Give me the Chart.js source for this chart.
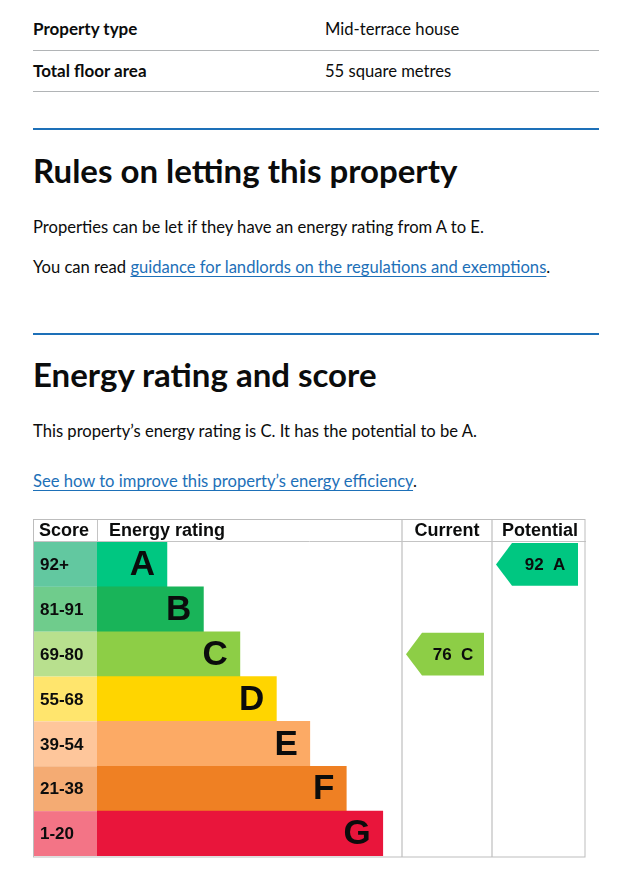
<!DOCTYPE html>
<html>
<head>
<meta charset="utf-8">
<script src="https://cdn.jsdelivr.net/npm/chart.js@4.4.1/dist/chart.umd.min.js"></script>
<style>
  body { margin: 0; background: #fff; color: #0b0c0c; font-family: Lato, "Noto Sans", sans-serif; }
  .page { position: relative; width: 617px; height: 874px; overflow: hidden; }
  .t { position: absolute; white-space: nowrap; line-height: 1; font-size: 16.6px; }
  .b { font-weight: 700; font-size: 17px; }
  .rule { position: absolute; left: 33px; width: 566px; height: 1px; background: #b1b4b6; }
  .blue { position: absolute; left: 33px; width: 566px; height: 2px; background: #1d70b8; }
  a { color: #1d70b8; text-decoration: underline; text-underline-offset: 3px; text-decoration-thickness: 1px; }
  h2 { margin: 0; position: absolute; left: 33px; font-size: 33px; font-weight: 700; line-height: 1; white-space: nowrap; }
  #epc-wrap { position: absolute; left: 33px; top: 519px; width: 553px; height: 340px; }
</style>
</head>
<body>
<div class="page">
  <div class="t b" style="left:33px; top:20px;">Property type</div>
  <div class="t" style="left:325px; top:21px;">Mid-terrace house</div>
  <div class="rule" style="top:50px;"></div>
  <div class="t b" style="left:33px; top:62px;">Total floor area</div>
  <div class="t" style="left:325px; top:63px;">55 square metres</div>
  <div class="rule" style="top:91px;"></div>

  <div class="blue" style="top:128px;"></div>
  <h2 style="top:154px;">Rules on letting this property</h2>
  <div class="t" style="left:33px; top:219px;">Properties can be let if they have an energy rating from A to E.</div>
  <div class="t" style="left:33px; top:259px;">You can read <a href="#">guidance for landlords on the regulations and exemptions</a>.</div>

  <div class="blue" style="top:333px;"></div>
  <h2 style="top:358px;">Energy rating and score</h2>
  <div class="t" style="left:33px; top:423px;">This property’s energy rating is C. It has the potential to be A.</div>
  <div class="t" style="left:33px; top:473px;"><a href="#">See how to improve this property’s energy efficiency</a>.</div>

  <div id="epc-wrap"><canvas id="epcChart"></canvas></div>
</div>

<script>
const bands = ['A', 'B', 'C', 'D', 'E', 'F', 'G'];
const scoreRanges = ['92+', '81-91', '69-80', '55-68', '39-54', '21-38', '1-20'];
const bandMinScores = [92, 81, 69, 55, 39, 21, 1];
const barLengths = [23, 35, 47, 59, 70, 82, 94];
const bandColours = ['#00c781', '#19b459', '#8dce46', '#ffd500', '#fcaa65', '#ef8023', '#e9153b'];
const scoreColours = ['#62c8a0', '#6fcc8c', '#b8e08e', '#ffe56d', '#fec69b', '#f4ab73', '#f37486'];
const headers = ['Score', 'Energy rating', 'Current', 'Potential'];
const currentScore = 76;
const potentialScore = 92;

const bandFor = score => bandMinScores.findIndex(min => score >= min);

const ctx = document.getElementById('epcChart');

// table grid, score column, header, letters and arrows round the bars
const epcTable = {
  id: 'epcTable',
  beforeDatasetsDraw(chart) {
    const c = chart.ctx;
    const area = chart.chartArea;
    const y = chart.scales.y;
    const rowH = (area.bottom - area.top) / bands.length;
    c.save();
    scoreRanges.forEach((label, i) => {
      const cy = y.getPixelForValue(i);
      c.fillStyle = scoreColours[i];
      c.fillRect(0, cy - rowH / 2, area.left, rowH);
      c.fillStyle = '#0b0c0c';
      c.font = 'bold 17px "Liberation Sans", Arial, sans-serif';
      c.textBaseline = 'middle';
      c.textAlign = 'left';
      c.fillText(label, 7, cy + 1);
    });
    c.restore();
  },
  afterDatasetsDraw(chart) {
    const c = chart.ctx;
    const area = chart.chartArea;
    const y = chart.scales.y;
    const x = chart.scales.x;
    const rowH = (area.bottom - area.top) / bands.length;
    const W = chart.width;
    const curL = area.right, curR = area.right + 90, potL = curR, potR = W - 1;
    c.save();

    // band letters at the end of each bar
    c.fillStyle = '#0b0c0c';
    c.font = 'bold 35px "Liberation Sans", Arial, sans-serif';
    c.textAlign = 'right';
    c.textBaseline = 'middle';
    bands.forEach((b, i) => {
      c.fillText(b, x.getPixelForValue(barLengths[i]) - 12, y.getPixelForValue(i) + 1);
    });

    // column dividers
    c.fillStyle = '#d8d8d8';
    c.fillRect(curL, 0, 2, area.bottom + 1);
    c.fillRect(potL, 0, 2, area.bottom + 1);

    // header row
    c.strokeStyle = '#c4c4c4';
    c.lineWidth = 1;
    c.beginPath();
    c.moveTo(0, area.top - 0.5); c.lineTo(W, area.top - 0.5);
    c.moveTo(area.left + 0.5, 0); c.lineTo(area.left + 0.5, area.top);
    c.stroke();
    c.fillStyle = '#0b0c0c';
    c.font = 'bold 18px "Liberation Sans", Arial, sans-serif';
    c.textBaseline = 'middle';
    c.textAlign = 'left';
    c.fillText(headers[0], 6, area.top / 2 + 1);
    c.fillText(headers[1], area.left + 12, area.top / 2 + 1);
    c.textAlign = 'center';
    c.fillText(headers[2], (curL + curR) / 2 + 1, area.top / 2 + 1);
    c.fillText(headers[3], (potL + potR) / 2 + 2, area.top / 2 + 1);

    // outer border
    c.strokeStyle = '#bdbdbd';
    c.strokeRect(0.5, 0.5, W - 1.5, area.bottom + 0.5);

    // current / potential arrows
    const arrow = (score, left, right) => {
      const i = bandFor(score);
      const cy = y.getPixelForValue(i);
      const top = cy - rowH / 2 + 1, bot = cy + rowH / 2 - 1;
      const tip = left + 5, r = right - 7;
      c.fillStyle = bandColours[i];
      c.beginPath();
      c.moveTo(tip, cy);
      c.lineTo(tip + 16, top);
      c.lineTo(r, top);
      c.lineTo(r, bot);
      c.lineTo(tip + 16, bot);
      c.closePath();
      c.fill();
      c.fillStyle = '#0b0c0c';
      c.font = 'bold 17px "Liberation Sans", Arial, sans-serif';
      c.textAlign = 'center';
      c.fillText(score + '  ' + bands[i], (tip + 16 + r) / 2, cy + 1);
    };
    arrow(currentScore, curL, curR);
    arrow(potentialScore, potL, potR);
    c.restore();
  }
};

new Chart(ctx, {
  type: 'bar',
  data: {
    labels: bands,
    datasets: [{
      label: 'Energy rating',
      data: barLengths,
      backgroundColor: bandColours,
      borderWidth: 0,
      barPercentage: 1,
      categoryPercentage: 1
    }]
  },
  options: {
    indexAxis: 'y',
    responsive: true,
    maintainAspectRatio: false,
    animation: false,
    layout: { padding: { left: 64, right: 185, top: 23, bottom: 3 } },
    plugins: { legend: { display: false }, tooltip: { enabled: false } },
    scales: {
      x: { display: false, min: 0, max: 100 },
      y: { display: false }
    }
  },
  plugins: [epcTable]
});
</script>
</body>
</html>
